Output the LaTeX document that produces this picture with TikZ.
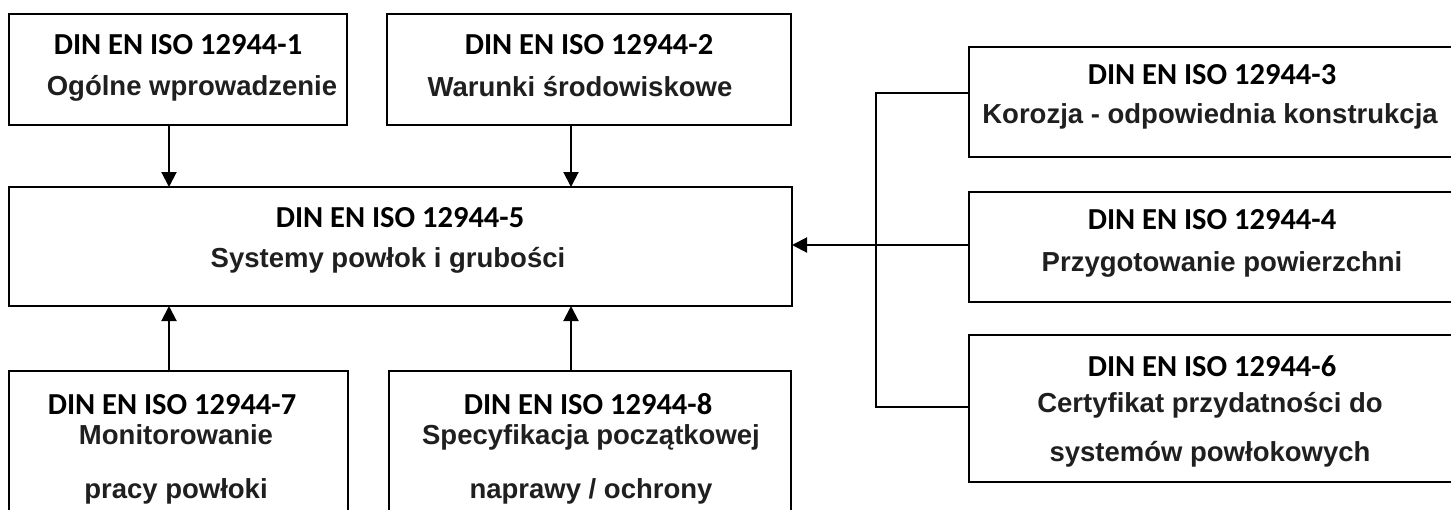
\documentclass[tikz,border=0pt]{standalone}
\usepackage{fontspec}
\setmainfont{Liberation Sans}
\newfontfamily\dinfont{Carlito}
\usetikzlibrary{arrows.meta}
\tikzset{
  box/.style={draw=black, line width=2pt, rectangle, inner sep=0pt, outer sep=0pt},
  arr/.style={line width=2pt, -{Triangle[length=15pt,width=15pt]}},
  conn/.style={line width=1.8pt},
  dintxt/.style={anchor=base, inner sep=0pt, font=\dinfont\bfseries\fontsize{30.5}{36}\selectfont},
  desctxt/.style={anchor=base, inner sep=0pt, font=\bfseries\fontsize{27.5}{33}\selectfont, text=black!88}
}
\begin{document}
\begin{tikzpicture}[x=1pt,y=-1pt]
\clip (0,0) rectangle (1451,509);
\fill[white] (0,0) rectangle (1451,509);
% boxes
\node[box, minimum width=338pt, minimum height=111pt] (b1) at (178,69.5) {};
\node[box, minimum width=404pt, minimum height=111pt] (b2) at (589,69.5) {};
\node[box, minimum width=783pt, minimum height=119pt] (b5) at (400.5,246.5) {};
\node[box, minimum width=339pt, minimum height=159pt] (b7) at (178.5,450.5) {};
\node[box, minimum width=402pt, minimum height=159pt] (b8) at (590,450.5) {};
\node[box, minimum width=487pt, minimum height=110pt] (b3) at (1212.5,102) {};
\node[box, minimum width=487pt, minimum height=110pt] (b4) at (1212.5,247) {};
\node[box, minimum width=487pt, minimum height=147pt] (b6) at (1212.5,408.5) {};
% texts
\node[dintxt] (t1a) at (178,54) {DIN EN ISO 12944-1};
\node[desctxt] (t1b) at (192,95) {Ogólne wprowadzenie};
\node[dintxt] (t2a) at (589,54) {DIN EN ISO 12944-2};
\node[desctxt] (t2b) at (580,96) {Warunki środowiskowe};
\node[dintxt] (t5a) at (400,227) {DIN EN ISO 12944-5};
\node[desctxt] (t5b) at (388,267) {Systemy powłok i grubości};
\node[dintxt] (t7a) at (172,414) {DIN EN ISO 12944-7};
\node[desctxt] (t7b) at (176,444) {Monitorowanie};
\node[desctxt] (t7c) at (176,498) {pracy powłoki};
\node[dintxt] (t8a) at (588,414) {DIN EN ISO 12944-8};
\node[desctxt] (t8b) at (591,444) {Specyfikacja początkowej};
\node[desctxt] (t8c) at (591,498) {naprawy / ochrony};
\node[dintxt] (t3a) at (1212,84) {DIN EN ISO 12944-3};
\node[desctxt] (t3b) at (1210,123) {Korozja - odpowiednia konstrukcja};
\node[dintxt] (t4a) at (1212,229) {DIN EN ISO 12944-4};
\node[desctxt] (t4b) at (1222,271) {Przygotowanie powierzchni};
\node[dintxt] (t6a) at (1212,376) {DIN EN ISO 12944-6};
\node[desctxt] (t6b) at (1210,412) {Certyfikat przydatności do};
\node[desctxt] (t6c) at (1210,461) {systemów powłokowych};
% connector helpers
\coordinate (xl) at (169,0);
\coordinate (xr) at (571,0);
\coordinate (yh) at (0,245);
\coordinate (bx) at (876,93);
\coordinate (by) at (876,407);
% arrows
\draw[arr] (b1.south -| xl) -- (b5.north -| xl);
\draw[arr] (b2.south -| xr) -- (b5.north -| xr);
\draw[arr] (b7.north -| xl) -- (b5.south -| xl);
\draw[arr] (b8.north -| xr) -- (b5.south -| xr);
\draw[arr] (b4.west |- yh) -- (b5.east |- yh);
\draw[conn] (b3.west |- bx) -- (bx) -- (by) -- (b6.west |- by);
\end{tikzpicture}
\end{document}
